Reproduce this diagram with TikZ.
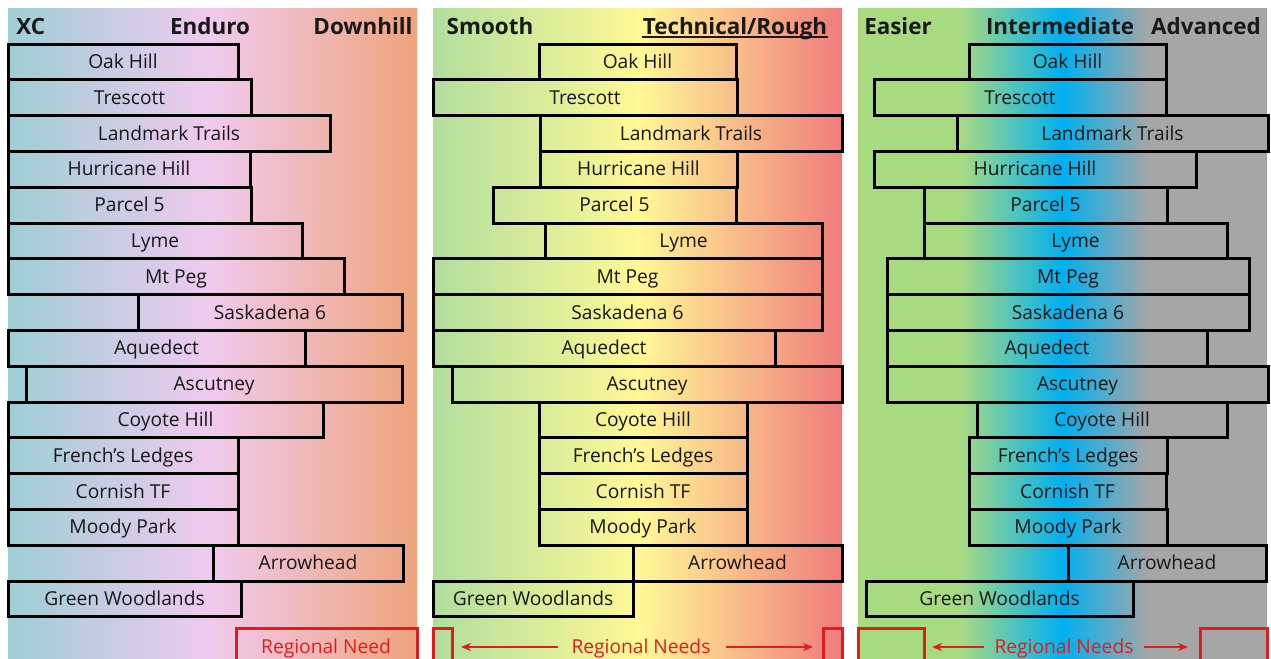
\documentclass[tikz,border=0pt]{standalone}
\usepackage{fontspec}
\setmainfont{Open Sans}
\usetikzlibrary{arrows.meta}
\definecolor{pAa}{RGB}{158,206,214}
\definecolor{pAb}{RGB}{240,202,238}
\definecolor{pAc}{RGB}{238,164,124}
\definecolor{pBa}{RGB}{176,222,158}
\definecolor{pBb}{RGB}{255,248,150}
\definecolor{pBc}{RGB}{240,124,124}
\definecolor{pCa}{RGB}{168,218,130}
\definecolor{pCb}{RGB}{0,176,240}
\definecolor{pCc}{RGB}{166,166,166}
\definecolor{needred}{RGB}{226,28,28}
\definecolor{ink}{RGB}{24,24,24}
\pgfdeclarehorizontalshading{shadeA}{100bp}{color(0bp)=(pAa); color(25bp)=(pAa); color(49.6bp)=(pAb); color(75bp)=(pAc); color(100bp)=(pAc)}
\pgfdeclarehorizontalshading{shadeB}{100bp}{color(0bp)=(pBa); color(25bp)=(pBa); color(50.2bp)=(pBb); color(75bp)=(pBc); color(100bp)=(pBc)}
\pgfdeclarehorizontalshading{shadeC}{100bp}{color(0bp)=(pCa); color(25bp)=(pCa); color(37.5bp)=(pCa); color(50bp)=(pCb); color(60.6bp)=(pCc); color(75bp)=(pCc); color(100bp)=(pCc)}
\tikzset{
  barbox/.style={draw=black, line width=1.5pt, rectangle, inner sep=0pt, outer sep=0pt,
    minimum height=17.9pt, text height=8.4pt, text depth=1.9pt, text=ink,
    font=\fontsize{9.6}{11}\selectfont},
  headtxt/.style={font=\bfseries\fontsize{11.2}{13}\selectfont, text=black!90, inner sep=0pt, anchor=base},
  needbox/.style={draw=needred, line width=1.5pt},
  needtxt/.style={text=needred, font=\fontsize{9.6}{11}\selectfont, inner sep=0pt, anchor=base},
  needarrow/.style={draw=needred, line width=1pt, -{Stealth[length=5pt,width=4pt]}}
}
\newcommand\trailbar[5]{%
  \pgfmathsetmacro\bw{((#3)-(#2))*0.5}%
  \pgfmathsetmacro\bx{((#2)+(#3))/2}%
  \pgfmathsetmacro\by{44+35.8*(#4)+17.9}%
  \node[barbox, minimum width=\bw pt] (#1) at (\bx,\by) {#5};%
}
\begin{document}
\begin{tikzpicture}[x=0.5pt,y=-0.5pt]
\useasboundingbox (0,0) rectangle (1271,659);
\clip (0,0) rectangle (1271,659);
\fill[white] (0,0) rectangle (1271,659);
% panels
\shade[shading=shadeA] (8,8) rectangle (417,659);
\shade[shading=shadeB] (433,8) rectangle (842,659);
\shade[shading=shadeC] (858,8) rectangle (1267,659);
% headers
\node[headtxt, anchor=base west] (hXC) at (16,34.3) {XC};
\node[headtxt] (hEn) at (210,34.3) {Enduro};
\node[headtxt] (hDh) at (363,34.3) {Downhill};
\node[headtxt] (hSm) at (490,34.3) {Smooth};
\node[headtxt] (hTe) at (735,34.3) {Technical/Rough};
\draw[line width=0.9pt, black!90] ([yshift=-1.4pt]hTe.base west) -- ([yshift=-1.4pt]hTe.base east);
\node[headtxt] (hEa) at (898,34.3) {Easier};
\node[headtxt] (hIn) at (1060,34.3) {Intermediate};
\node[headtxt] (hAd) at (1206,34.3) {Advanced};
% panel 1
\trailbar{a0}{8}{238}{0}{Oak Hill}
\trailbar{a1}{8}{251}{1}{Trescott}
\trailbar{a2}{8}{330}{2}{Landmark Trails}
\trailbar{a3}{8}{250}{3}{Hurricane Hill}
\trailbar{a4}{8}{251}{4}{Parcel 5}
\trailbar{a5}{8}{302}{5}{Lyme}
\trailbar{a6}{8}{344}{6}{Mt Peg}
\trailbar{a7}{138}{402}{7}{Saskadena 6}
\trailbar{a8}{8}{305}{8}{Aquedect}
\trailbar{a9}{26}{402}{9}{Ascutney}
\trailbar{a10}{8}{323}{10}{Coyote Hill}
\trailbar{a11}{8}{238}{11}{French’s Ledges}
\trailbar{a12}{8}{238}{12}{Cornish TF}
\trailbar{a13}{8}{238}{13}{Moody Park}
\trailbar{a14}{213}{403}{14}{Arrowhead}
\trailbar{a15}{8}{241}{15}{Green Woodlands}
% panel 2
\trailbar{b0}{539}{736}{0}{Oak Hill}
\trailbar{b1}{433}{737}{1}{Trescott}
\trailbar{b2}{540}{842}{2}{Landmark Trails}
\trailbar{b3}{540}{737}{3}{Hurricane Hill}
\trailbar{b4}{493}{736}{4}{Parcel 5}
\trailbar{b5}{545}{822}{5}{Lyme}
\trailbar{b6}{433}{822}{6}{Mt Peg}
\trailbar{b7}{433}{822}{7}{Saskadena 6}
\trailbar{b8}{433}{775}{8}{Aquedect}
\trailbar{b9}{452}{842}{9}{Ascutney}
\trailbar{b10}{539}{747}{10}{Coyote Hill}
\trailbar{b11}{539}{747}{11}{French’s Ledges}
\trailbar{b12}{539}{747}{12}{Cornish TF}
\trailbar{b13}{539}{747}{13}{Moody Park}
\trailbar{b14}{633}{842}{14}{Arrowhead}
\trailbar{b15}{433}{633}{15}{Green Woodlands}
% panel 3
\trailbar{c0}{969}{1166}{0}{Oak Hill}
\trailbar{c1}{874}{1166}{1}{Trescott}
\trailbar{c2}{957}{1268}{2}{Landmark Trails}
\trailbar{c3}{874}{1196}{3}{Hurricane Hill}
\trailbar{c4}{924}{1167}{4}{Parcel 5}
\trailbar{c5}{924}{1227}{5}{Lyme}
\trailbar{c6}{887}{1249}{6}{Mt Peg}
\trailbar{c7}{887}{1249}{7}{Saskadena 6}
\trailbar{c8}{887}{1207}{8}{Aquedect}
\trailbar{c9}{887}{1268}{9}{Ascutney}
\trailbar{c10}{977}{1227}{10}{Coyote Hill}
\trailbar{c11}{969}{1167}{11}{French’s Ledges}
\trailbar{c12}{969}{1166}{12}{Cornish TF}
\trailbar{c13}{969}{1167}{13}{Moody Park}
\trailbar{c14}{1068}{1266}{14}{Arrowhead}
\trailbar{c15}{866}{1133}{15}{Green Woodlands}
% regional needs
\draw[needbox] (236,628) rectangle (417,668);
\node[needtxt] (rn1) at (326,653) {Regional Need};
\draw[needbox] (433,628) rectangle (452,668);
\draw[needbox] (823,628) rectangle (842,668);
\node[needtxt] (rn2) at (641,653) {Regional Needs};
\coordinate (rn2l) at (461,647);
\coordinate (rn2r) at (813,647);
\draw[needarrow] ([xshift=-6.5pt]rn2.west|-rn2l) -- (rn2l);
\draw[needarrow] ([xshift=7.5pt]rn2.east|-rn2r) -- (rn2r);
\draw[needbox] (858,628) rectangle (924,668);
\draw[needbox] (1200,628) rectangle (1267,668);
\node[needtxt] (rn3) at (1064,653) {Regional Needs};
\coordinate (rn3l) at (932,647);
\coordinate (rn3r) at (1188,647);
\draw[needarrow] ([xshift=-5pt]rn3.west|-rn3l) -- (rn3l);
\draw[needarrow] ([xshift=5pt]rn3.east|-rn3r) -- (rn3r);
\end{tikzpicture}
\end{document}
